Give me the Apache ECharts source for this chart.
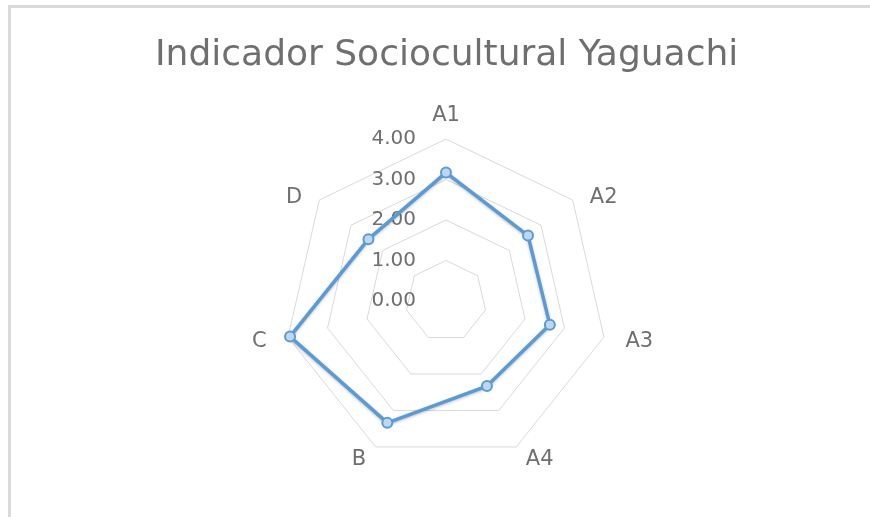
<!DOCTYPE html>
<html lang="es">
<head>
    <meta charset="UTF-8">
    <title>Indicador Sociocultural Yaguachi</title>
    <script src="https://cdn.jsdelivr.net/npm/echarts@6/dist/echarts.min.js"></script>
    <style>
        body { margin: 0; background: #fff; }
        #frame {
            position: absolute; left: 8px; top: 5px; width: 900px; height: 600px;
            border-top: 3px solid #d9d9d9; border-left: 3px solid #d9d9d9;
        }
        #main { position: absolute; left: 0; top: 0; width: 870px; height: 517px; }
    </style>
</head>
<body>
    <div id="frame"></div>
    <div id="main"></div>

    <script>
        // datos del grafico (orden como en Excel, sentido horario desde arriba)
        var categorias = ['A1', 'A2', 'A3', 'A4', 'B', 'C', 'D'];
        var valores = [3.17, 2.59, 2.63, 2.33, 3.34, 3.95, 2.45];
        var escalaMax = 4;

        // echarts dibuja el radar en sentido antihorario, asi que se invierte el orden
        var orden = [0];
        for (var k = categorias.length - 1; k > 0; k--) orden.push(k);

        // estilo rich para acercar los nombres a donde los pone Excel
        var estiloNombre = { A2: 'bajo', D: 'bajo', A4: 'alto', B: 'alto' };

        var indicadores = orden.map(function (i, n) {
            var ind = { name: categorias[i], min: 0, max: escalaMax };
            if (n === 0) {
                // solo el primer eje lleva las etiquetas de escala
                ind.axisLabel = { show: true };
                ind.nameGap = 13;
            }
            return ind;
        });
        var serie = orden.map(function (i) { return valores[i]; });

        var textoGris = '#6f6f6f';
        var fuente = 'DejaVu Sans';

        var myChart = echarts.init(document.getElementById('main'));
        var option = {
            title: {
                text: 'Indicador Sociocultural Yaguachi',
                left: 150,
                top: 33,
                textStyle: {
                    fontFamily: fuente,
                    fontSize: 36,
                    fontWeight: 'normal',
                    color: textoGris
                }
            },
            radar: {
                center: [446, 301],
                radius: 162,
                startAngle: 90,
                splitNumber: 4,
                shape: 'polygon',
                axisName: {
                    color: textoGris,
                    fontFamily: fuente,
                    fontSize: 21,
                    formatter: function (name) {
                        var s = estiloNombre[name];
                        return s ? '{' + s + '|' + name + '}' : name;
                    },
                    rich: {
                        bajo: { color: textoGris, fontFamily: fuente, fontSize: 21, padding: [22, 0, 0, 0] },
                        alto: { color: textoGris, fontFamily: fuente, fontSize: 21, padding: [0, 0, 14, 0] }
                    }
                },
                nameGap: 22,
                splitLine: { lineStyle: { color: '#d9d9d9', width: 1 } },
                splitArea: { show: false },
                axisLine: { show: false },
                axisTick: { show: false },
                axisLabel: {
                    show: false,
                    color: textoGris,
                    fontFamily: fuente,
                    fontSize: 20,
                    margin: 30,
                    showMinLabel: true,
                    showMaxLabel: true,
                    formatter: function (v) { return v.toFixed(2); }
                },
                indicator: indicadores
            },
            series: [{
                type: 'radar',
                symbol: 'circle',
                symbolSize: 10,
                lineStyle: {
                    color: '#5b9bd5',
                    width: 3.5,
                    shadowColor: 'rgba(0,0,0,0.25)',
                    shadowBlur: 3,
                    shadowOffsetY: 1
                },
                itemStyle: {
                    color: '#bdd7ee',
                    borderColor: '#5b9bd5',
                    borderWidth: 2
                },
                data: [{ value: serie, name: 'Yaguachi' }]
            }]
        };
        myChart.setOption(option);
    </script>
</body>
</html>
